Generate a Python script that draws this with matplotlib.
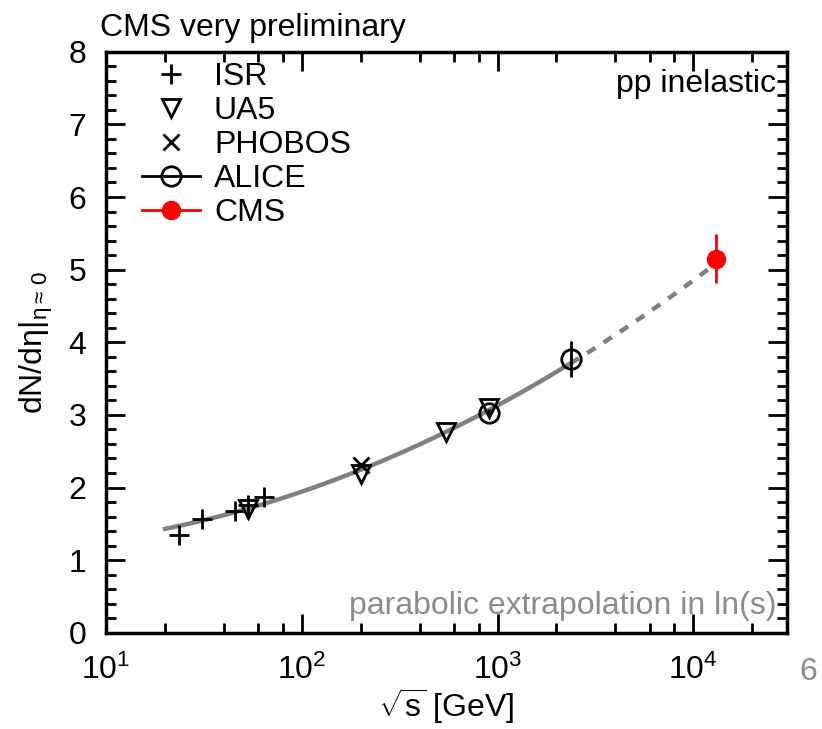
import numpy as np
import matplotlib.pyplot as plt
from matplotlib.lines import Line2D
from matplotlib.ticker import LogLocator, MultipleLocator, NullFormatter

plt.rcParams['font.family'] = ['Liberation Sans', 'DejaVu Sans']
plt.rcParams['mathtext.fontset'] = 'custom'
plt.rcParams['mathtext.rm'] = 'Liberation Sans'
plt.rcParams['mathtext.it'] = 'Liberation Sans'

# data
isr_x = [23.6, 30.9, 45.5, 53.0, 64.0]
isr_y = [1.35, 1.56, 1.67, 1.76, 1.87]
ua5_x = [53.0, 200.0, 546.0, 900.0]
ua5_y = [1.70, 2.18, 2.77, 3.10]
phobos_x = [200.0]
phobos_y = [2.31]
alice_x = [900.0, 2360.0]
alice_y = [3.03, 3.77]
alice_err = [0.05, 0.25]
cms_x = [13000.0]
cms_y = [5.15]
cms_err = [0.34]

# points along the grey parabolic curve (used to fit it)
curve_x = [20.0, 200.0, 900.0, 2360.0, 13000.0]
curve_y = [1.43, 2.25, 3.05, 3.72, 5.08]

coef = np.polyfit(np.log(np.array(curve_x) ** 2), curve_y, 2)
xs_solid = np.logspace(np.log10(20), np.log10(2360), 200)
xs_dash = np.logspace(np.log10(2360), np.log10(14000), 100)

fig = plt.figure(figsize=(8.22, 7.29), dpi=100)
ax = fig.add_axes([0.129, 0.132, 0.828, 0.797])

ax.plot(xs_solid, np.polyval(coef, np.log(xs_solid ** 2)), color='#808080', lw=3.2, zorder=1)
ax.plot(xs_dash, np.polyval(coef, np.log(xs_dash ** 2)), color='#808080', lw=3.2,
        ls=(0, (2.2, 2.2)), zorder=1)

ax.plot(isr_x, isr_y, '+', color='black', ms=14, mew=2, ls='none', zorder=3)
ax.plot(ua5_x, ua5_y, 'v', mfc='none', mec='black', ms=13, mew=2, ls='none', zorder=3)
ax.plot(phobos_x, phobos_y, 'x', color='black', ms=11, mew=2, ls='none', zorder=3)
ax.errorbar(alice_x, alice_y, yerr=alice_err, fmt='o', mfc='none', mec='black',
            ecolor='black', ms=14, mew=2, elinewidth=2, capsize=0, zorder=3)
ax.errorbar(cms_x, cms_y, yerr=cms_err, fmt='o', color='red', ms=13,
            elinewidth=2, capsize=0, zorder=4)

ax.set_xscale('log')
ax.set_xlim(10, 30000)
ax.set_ylim(0, 8)
ax.xaxis.set_major_locator(LogLocator(base=10, numticks=10))
ax.xaxis.set_minor_locator(LogLocator(base=10, subs=[2, 4, 6, 8], numticks=10))
ax.xaxis.set_minor_formatter(NullFormatter())
ax.yaxis.set_major_locator(MultipleLocator(1))
ax.yaxis.set_minor_locator(MultipleLocator(0.2))

ax.tick_params(which='both', direction='in', top=True, right=True, width=2,
               labelsize=23)
ax.tick_params(axis='y', pad=14)
ax.tick_params(axis='x', pad=16)
ax.tick_params(which='major', length=14)
ax.tick_params(which='minor', length=7)
for s in ax.spines.values():
    s.set_linewidth(2.5)

ax.set_xlabel(r'$\sqrt{\rm s}$ [GeV]', fontsize=23, labelpad=0)
ax.set_ylabel(r'dN/d$\eta$|$_{\eta\approx\,0}$', fontsize=23, labelpad=10)

fig.text(0.122, 0.962, 'CMS very preliminary', fontsize=23, ha='left', va='center')
ax.text(0.985, 0.97, 'pp inelastic', transform=ax.transAxes, fontsize=23,
        ha='right', va='top')
ax.text(0.985, 0.02, 'parabolic extrapolation in ln(s)', transform=ax.transAxes,
        fontsize=23, ha='right', va='bottom', color='#8c8c8c')
fig.text(0.983, 0.078, '6', fontsize=23, ha='center', va='center', color='#8c8c8c')

handles = [
    Line2D([], [], marker='+', color='black', ms=14, mew=2, ls='none'),
    Line2D([], [], marker='v', mfc='none', mec='black', ms=13, mew=2, ls='none'),
    Line2D([], [], marker='x', color='black', ms=11, mew=2, ls='none'),
    Line2D([], [], marker='o', mfc='none', mec='black', color='black', ms=14, mew=2, lw=2),
    Line2D([], [], marker='o', color='red', ms=13, lw=2),
]
labels = ['ISR', 'UA5', 'PHOBOS', 'ALICE', 'CMS']
ax.legend(handles, labels, loc='upper left', bbox_to_anchor=(0.02, 1.02), frameon=False,
          fontsize=23, handlelength=1.8, handletextpad=0.45, labelspacing=0.12,
          borderaxespad=0.3)

fig.savefig('out.png', dpi=100)
